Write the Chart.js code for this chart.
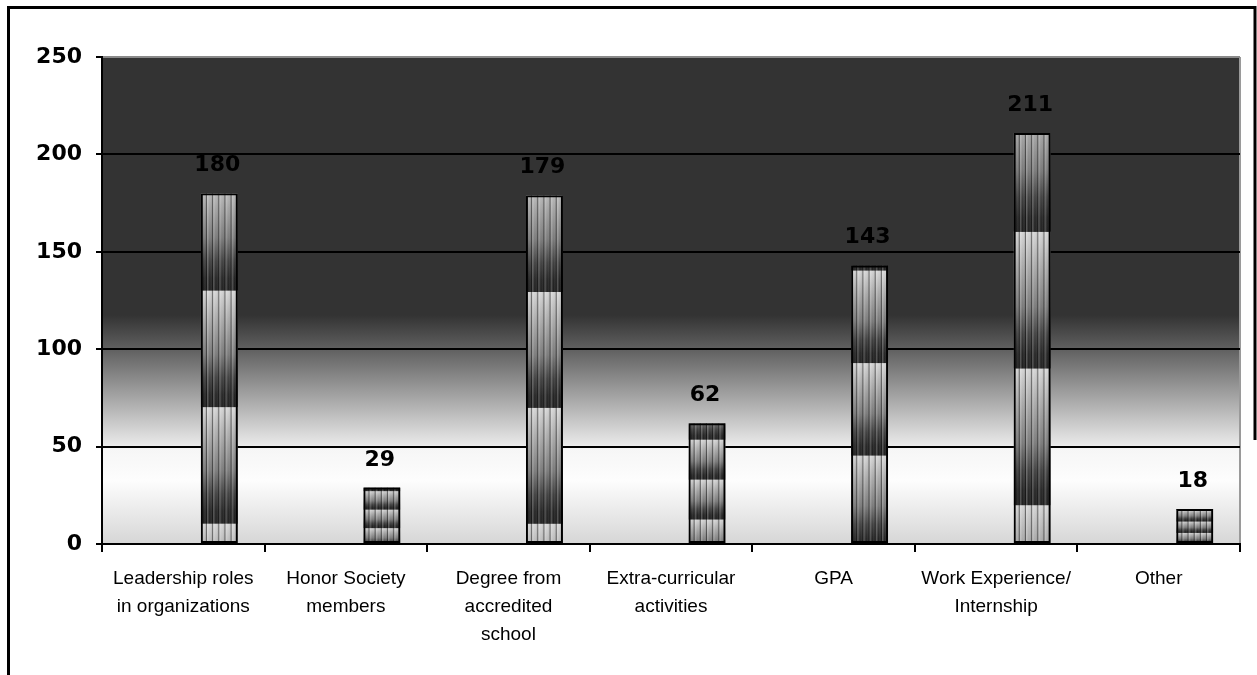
<!DOCTYPE html>
<html>
<head>
<meta charset="utf-8">
<script src="https://cdn.jsdelivr.net/npm/chart.js@4"></script>
<style>
  html, body { margin: 0; padding: 0; background: #fff; }
  #wrap { position: relative; width: 1257px; height: 675px; }
</style>
</head>
<body>
<div id="wrap"><canvas id="chart"></canvas></div>
<script>
const categories = [
  ['Leadership roles', 'in organizations'],
  ['Honor Society', 'members'],
  ['Degree from', 'accredited', 'school'],
  ['Extra-curricular', 'activities'],
  ['GPA'],
  ['Work Experience/', 'Internship'],
  ['Other']
];
const counts = [180, 29, 179, 62, 143, 211, 18];
// empty first series, keeps the bars in the right half of each slot
const blankSeries = [null, null, null, null, null, null, null];
const yTicks = [0, 50, 100, 150, 200, 250];

// where the stacked picture tiles start inside each bar (fraction of a tile)
const tilePhase = [0.17, 0.83, 0.17, 0.6, 0.95, 0.28, 0.93];

const boldFont = { family: 'DejaVu Sans', size: 22, weight: 'bold' };

// plot area background, dark on top fading to white
const plotBackground = {
  id: 'plotBackground',
  beforeDraw(chart) {
    const { ctx, chartArea: a } = chart;
    const g = ctx.createLinearGradient(0, a.top, 0, a.bottom);
    g.addColorStop(0, '#333333');
    g.addColorStop(0.53, '#333333');
    g.addColorStop(0.6, '#606060');
    g.addColorStop(0.795, '#e8e8e8');
    g.addColorStop(0.805, '#f6f6f6');
    g.addColorStop(0.87, '#fdfdfd');
    g.addColorStop(1, '#d6d6d6');
    ctx.save();
    ctx.fillStyle = g;
    ctx.fillRect(a.left, a.top, a.right - a.left, a.bottom - a.top);
    ctx.strokeStyle = '#9a9a9a';
    ctx.lineWidth = 2;
    ctx.beginPath();
    ctx.moveTo(a.right, a.top);
    ctx.lineTo(a.right, a.bottom);
    ctx.stroke();
    ctx.restore();
  }
};

// striped, banded fill of every bar: three tiles per bar
const barTiles = {
  id: 'barTiles',
  beforeDatasetsDraw(chart) {
    const ctx = chart.ctx;
    const meta = chart.getDatasetMeta(1);
    meta.data.forEach((bar, i) => {
      const left = bar.x - bar.width / 2;
      const w = bar.width;
      const top = bar.y;
      const h = bar.base - bar.y;
      const tileH = h / 3;
      ctx.save();
      ctx.beginPath();
      ctx.rect(left, top, w, h);
      ctx.clip();
      for (let k = -1; k < 4; k++) {
        const tileBottom = bar.base - (tilePhase[i] + k) * tileH;
        const tileTop = tileBottom - tileH;
        const g = ctx.createLinearGradient(0, tileTop, 0, tileBottom);
        g.addColorStop(0, '#d6d6d6');
        g.addColorStop(0.25, '#ababab');
        g.addColorStop(0.55, '#7a7a7a');
        g.addColorStop(0.75, '#404040');
        g.addColorStop(0.9, '#242424');
        g.addColorStop(1, '#1e1e1e');
        ctx.fillStyle = g;
        ctx.fillRect(left, tileTop, w, tileH + 0.5);
      }
      // vertical stripes
      const cols = 6;
      const cw = w / cols;
      for (let c = 0; c < cols; c++) {
        const x0 = left + c * cw;
        const sg = ctx.createLinearGradient(x0, 0, x0 + cw, 0);
        sg.addColorStop(0, 'rgba(255,255,255,0.3)');
        sg.addColorStop(0.45, 'rgba(255,255,255,0)');
        sg.addColorStop(1, 'rgba(0,0,0,0.3)');
        ctx.fillStyle = sg;
        ctx.fillRect(x0, top, cw, h);
        ctx.fillStyle = 'rgba(0,0,0,0.35)';
        ctx.fillRect(x0 + cw - 1, top, 1, h);
      }
      ctx.restore();
    });
  }
};

// value above each bar
const valueLabels = {
  id: 'valueLabels',
  afterDatasetsDraw(chart) {
    const ctx = chart.ctx;
    const meta = chart.getDatasetMeta(1);
    ctx.save();
    ctx.font = 'bold 22px "DejaVu Sans"';
    ctx.fillStyle = '#000';
    ctx.textAlign = 'center';
    ctx.textBaseline = 'alphabetic';
    meta.data.forEach((bar, i) => {
      ctx.fillText(String(counts[i]), bar.x - 2, bar.y - 22);
    });
    ctx.restore();
  }
};

// outer frame of the chart
const outerFrame = {
  id: 'outerFrame',
  afterDraw(chart) {
    const ctx = chart.ctx;
    ctx.save();
    ctx.strokeStyle = '#000';
    ctx.lineWidth = 3;
    ctx.beginPath();
    ctx.moveTo(8.5, 680);
    ctx.lineTo(8.5, 7.5);
    ctx.lineTo(1255, 7.5);
    ctx.lineTo(1255, 440);
    ctx.stroke();
    ctx.restore();
  }
};

new Chart(document.getElementById('chart'), {
  type: 'bar',
  data: {
    labels: categories,
    datasets: [
      {
        data: blankSeries,
        backgroundColor: 'rgba(0,0,0,0)',
        borderWidth: 0
      },
      {
        data: counts,
        backgroundColor: 'rgba(0,0,0,0)',
        borderColor: '#000',
        borderWidth: 2,
        borderSkipped: false
      }
    ]
  },
  options: {
    responsive: true,
    maintainAspectRatio: false,
    animation: false,
    categoryPercentage: 0.886,
    barPercentage: 0.514,
    layout: { padding: { left: 0, top: 57, right: 17, bottom: 0 } },
    plugins: {
      legend: { display: false },
      tooltip: { enabled: false }
    },
    scales: {
      x: {
        grid: {
          drawOnChartArea: false,
          drawTicks: true,
          tickLength: 8,
          color: '#000',
          lineWidth: 2
        },
        border: { color: '#000', width: 2 },
        ticks: {
          color: '#000',
          font: { family: 'Liberation Sans', size: 19, lineHeight: 1.47 },
          padding: 13,
          maxRotation: 0,
          autoSkip: false
        },
        afterFit(scale) { scale.height = 131; }
      },
      y: {
        min: 0,
        max: 250,
        afterBuildTicks(scale) {
          scale.ticks = yTicks.map(v => ({ value: v }));
        },
        grid: {
          color: ctx => (ctx.tick && ctx.tick.value === 250 ? '#8a8a8a' : '#000'),
          lineWidth: 2,
          tickLength: 6,
          tickColor: '#000'
        },
        border: { color: '#000', width: 2 },
        ticks: {
          color: '#000',
          font: boldFont,
          padding: 14
        },
        afterFit(scale) { scale.width = 102; }
      }
    }
  },
  plugins: [plotBackground, barTiles, valueLabels, outerFrame]
});
</script>
</body>
</html>
